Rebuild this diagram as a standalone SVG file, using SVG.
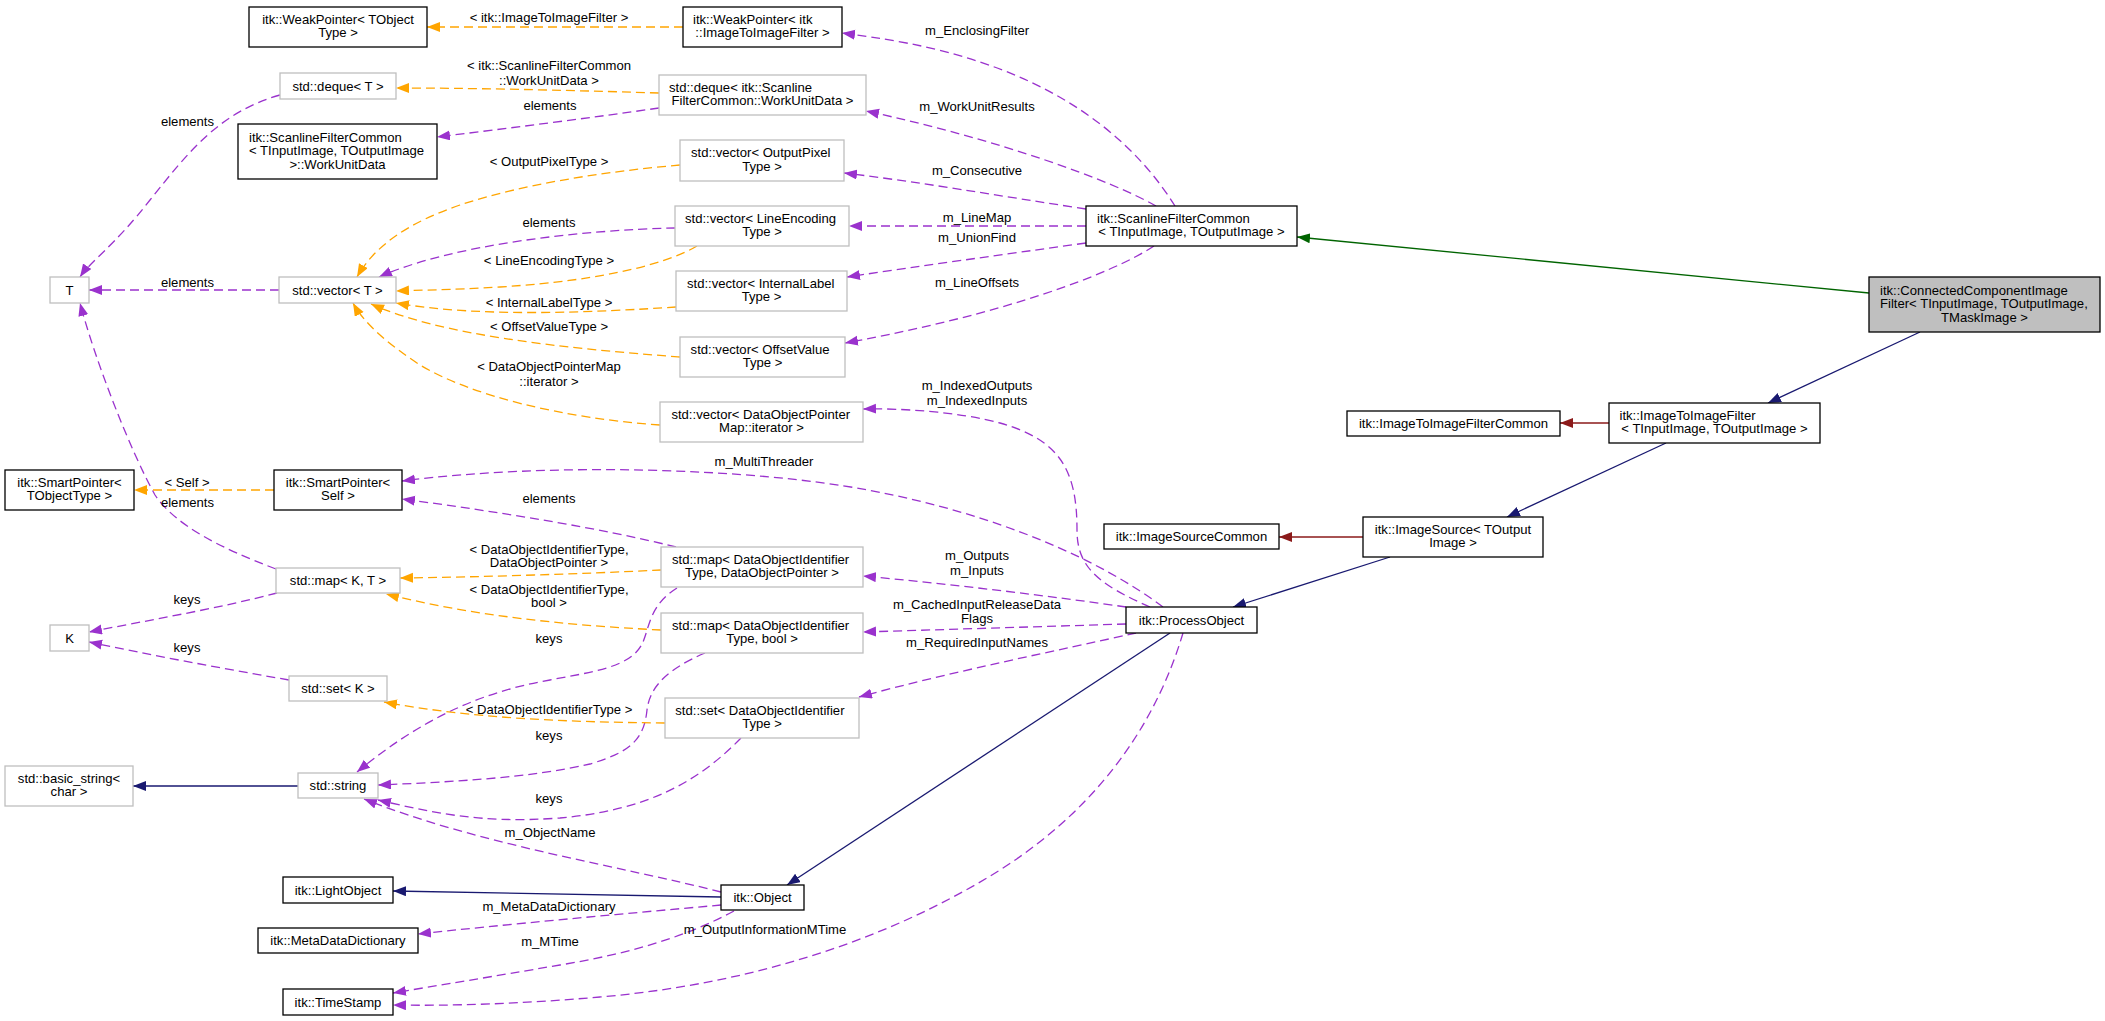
<svg xmlns="http://www.w3.org/2000/svg" width="2105" height="1021" viewBox="0 0 2105 1021">
<style>
text{font-family:"Liberation Sans",Arial,Helvetica,sans-serif;font-size:13.1px;fill:#000}
.c{text-anchor:middle}
.s{text-anchor:start}
.nb rect{fill:#fff;stroke:#000;stroke-width:1.3}
.ng rect{fill:#fff;stroke:#bfbfbf;stroke-width:1.3}
.sel rect{fill:#bfbfbf;stroke:#000;stroke-width:1.3}
#edges path{fill:none;stroke-width:1.3}
#edges .u{stroke:#9a32cd;stroke-dasharray:9,5;marker-end:url(#mu)}
#edges .t{stroke:#ffa500;stroke-dasharray:9,5;marker-end:url(#mt)}
#edges .n{stroke:#191970;marker-end:url(#mn)}
#edges .r{stroke:#8b1a1a;marker-end:url(#mr)}
#edges .g{stroke:#006400;marker-end:url(#mg)}
</style>
<defs>
<marker id="mu" markerUnits="userSpaceOnUse" markerWidth="14" markerHeight="11" refX="13" refY="5" orient="auto"><path d="M0,0 L13,5 L0,10 Z" fill="#9a32cd"/></marker>
<marker id="mt" markerUnits="userSpaceOnUse" markerWidth="14" markerHeight="11" refX="13" refY="5" orient="auto"><path d="M0,0 L13,5 L0,10 Z" fill="#ffa500"/></marker>
<marker id="mn" markerUnits="userSpaceOnUse" markerWidth="14" markerHeight="11" refX="13" refY="5" orient="auto"><path d="M0,0 L13,5 L0,10 Z" fill="#191970"/></marker>
<marker id="mr" markerUnits="userSpaceOnUse" markerWidth="14" markerHeight="11" refX="13" refY="5" orient="auto"><path d="M0,0 L13,5 L0,10 Z" fill="#8b1a1a"/></marker>
<marker id="mg" markerUnits="userSpaceOnUse" markerWidth="14" markerHeight="11" refX="13" refY="5" orient="auto"><path d="M0,0 L13,5 L0,10 Z" fill="#006400"/></marker>
</defs>
<rect x="0" y="0" width="2105" height="1021" fill="#fff"/>
<g id="edges">
<path class="u" d="M1175,206 C1140,150 1080,95 980,62 C930,45 880,38 842,33"/>
<path class="u" d="M1156,206 C1110,180 1000,140 866,111"/>
<path class="u" d="M1086,209 C1000,196 920,182 844,173"/>
<path class="u" d="M1086,226 L849,226"/>
<path class="u" d="M1086,243 C1000,255 920,266 847,277"/>
<path class="u" d="M1154,246 C1110,275 1000,315 845,343"/>
<path class="u" d="M659,108 C590,118 510,128 437,137"/>
<path class="u" d="M280,95 C220,112 190,150 150,200 C115,245 90,262 80,277"/>
<path class="u" d="M675,228 C580,230 450,245 379,277"/>
<path class="u" d="M279,290 L89,290"/>
<path class="u" d="M276,569 C220,548 175,525 155,495 C130,450 95,360 80,303"/>
<path class="u" d="M676,547 C600,528 500,512 402,499"/>
<path class="u" d="M1163,607 C1100,560 1000,515 868,490 C750,468 550,462 402,481"/>
<path class="u" d="M277,593 C220,608 150,620 89,632"/>
<path class="u" d="M289,680 C220,668 150,655 89,642"/>
<path class="u" d="M677,588 C650,605 650,625 643,642 C632,668 590,672 550,680 C480,692 420,720 357,772"/>
<path class="u" d="M705,653 C670,668 650,685 647,710 C644,740 630,752 590,764 C530,778 450,782 378,785"/>
<path class="u" d="M741,738 C700,780 650,810 560,818 C480,824 430,812 378,800"/>
<path class="u" d="M721,892 C620,866 480,845 364,799"/>
<path class="u" d="M1136,633 C1060,650 950,672 859,697"/>
<path class="u" d="M1126,607 C1050,596 950,584 863,576"/>
<path class="u" d="M1126,624 L863,632"/>
<path class="u" d="M1150,607 C1095,583 1077,565 1077,530 C1077,470 1060,440 1000,423 C960,412 900,408 863,409"/>
<path class="u" d="M721,905 C620,914 500,925 418,934"/>
<path class="u" d="M734,911 C680,940 620,955 560,965 C490,977 440,985 393,993"/>
<path class="u" d="M1183,633 C1160,710 1110,800 1000,870 C880,945 740,985 600,997 C520,1004 450,1006 393,1005"/>
<path class="t" d="M683,27 L427,27"/>
<path class="t" d="M659,93 C560,90 470,88 396,88"/>
<path class="t" d="M680,165 C600,172 520,185 460,205 C410,222 375,245 357,277"/>
<path class="t" d="M697,246 C670,262 610,280 500,287 C450,290 420,290 396,291"/>
<path class="t" d="M676,307 C600,312 480,318 396,303"/>
<path class="t" d="M680,357 C560,348 440,335 371,304"/>
<path class="t" d="M660,425 C560,418 470,395 420,365 C390,345 365,325 353,303"/>
<path class="t" d="M274,490 L134,490"/>
<path class="t" d="M661,570 C580,574 480,577 400,578"/>
<path class="t" d="M661,630 C560,625 470,615 386,594"/>
<path class="t" d="M665,723 C560,722 470,718 384,702"/>
<path class="n" d="M1920,332 L1768,403"/>
<path class="n" d="M1666,443 L1507,517"/>
<path class="n" d="M1390,557 L1233,607"/>
<path class="n" d="M1170,633 L787,885"/>
<path class="n" d="M721,897 L393,891"/>
<path class="n" d="M298,786 L133,786"/>
<path class="r" d="M1609,423 L1560,423"/>
<path class="r" d="M1363,537 L1279,537"/>
<path class="g" d="M1869,293 L1297,237"/>
</g>
<g id="edge-labels">
<text class="c" x="549" y="22">&lt; itk::ImageToImageFilter &gt;</text>
<text class="c" x="549" y="70">&lt; itk::ScanlineFilterCommon</text>
<text class="c" x="549" y="84.5">::WorkUnitData &gt;</text>
<text class="c" x="550" y="109.5">elements</text>
<text class="c" x="977" y="35">m_EnclosingFilter</text>
<text class="c" x="977" y="111">m_WorkUnitResults</text>
<text class="c" x="187.5" y="125.5">elements</text>
<text class="c" x="549" y="166">&lt; OutputPixelType &gt;</text>
<text class="c" x="977" y="175">m_Consecutive</text>
<text class="c" x="977" y="222">m_LineMap</text>
<text class="c" x="549" y="226.5">elements</text>
<text class="c" x="977" y="242">m_UnionFind</text>
<text class="c" x="549" y="265">&lt; LineEncodingType &gt;</text>
<text class="c" x="187.5" y="286.5">elements</text>
<text class="c" x="977" y="287">m_LineOffsets</text>
<text class="c" x="549" y="307">&lt; InternalLabelType &gt;</text>
<text class="c" x="549" y="331">&lt; OffsetValueType &gt;</text>
<text class="c" x="549" y="371">&lt; DataObjectPointerMap</text>
<text class="c" x="549" y="386">::iterator &gt;</text>
<text class="c" x="977" y="390">m_IndexedOutputs</text>
<text class="c" x="977" y="405">m_IndexedInputs</text>
<text class="c" x="764" y="466">m_MultiThreader</text>
<text class="c" x="187" y="486.5">&lt; Self &gt;</text>
<text class="c" x="549" y="502.5">elements</text>
<text class="c" x="187.5" y="506.5">elements</text>
<text class="c" x="549" y="553.5">&lt; DataObjectIdentifierType,</text>
<text class="c" x="549" y="567">DataObjectPointer &gt;</text>
<text class="c" x="977" y="559.5">m_Outputs</text>
<text class="c" x="977" y="574.5">m_Inputs</text>
<text class="c" x="549" y="593.5">&lt; DataObjectIdentifierType,</text>
<text class="c" x="549" y="607">bool &gt;</text>
<text class="c" x="187" y="603.5">keys</text>
<text class="c" x="977" y="608.5">m_CachedInputReleaseData</text>
<text class="c" x="977" y="622.5">Flags</text>
<text class="c" x="549" y="642.5">keys</text>
<text class="c" x="977" y="647">m_RequiredInputNames</text>
<text class="c" x="187" y="651.5">keys</text>
<text class="c" x="549" y="713.5">&lt; DataObjectIdentifierType &gt;</text>
<text class="c" x="549" y="739.5">keys</text>
<text class="c" x="549" y="803">keys</text>
<text class="c" x="550" y="837">m_ObjectName</text>
<text class="c" x="549" y="911">m_MetaDataDictionary</text>
<text class="c" x="765" y="933.5">m_OutputInformationMTime</text>
<text class="c" x="550" y="946">m_MTime</text>
</g>
<g id="n1" class="nb"><rect x="249" y="7" width="178" height="40"/><text class="c" x="338" y="23.7">itk::WeakPointer&lt; TObject</text><text class="c" x="338" y="37.3">Type &gt;</text></g>
<g id="n2" class="nb"><rect x="683" y="7" width="159" height="40"/><text class="s" x="693" y="23.7">itk::WeakPointer&lt; itk</text><text class="c" x="762.5" y="37.3">::ImageToImageFilter &gt;</text></g>
<g id="n3" class="ng"><rect x="280" y="73" width="116" height="26"/><text class="c" x="338" y="90.5">std::deque&lt; T &gt;</text></g>
<g id="n4" class="ng"><rect x="659" y="75" width="207" height="40"/><text class="s" x="669" y="91.7">std::deque&lt; itk::Scanline</text><text class="c" x="762.5" y="105.3">FilterCommon::WorkUnitData &gt;</text></g>
<g id="n5" class="nb"><rect x="238" y="124" width="199" height="55"/><text class="s" x="249" y="141.5">itk::ScanlineFilterCommon</text><text class="s" x="249" y="155.1">&lt; TInputImage, TOutputImage</text><text class="c" x="337.5" y="168.7">&gt;::WorkUnitData</text></g>
<g id="n6" class="ng"><rect x="680" y="140" width="164" height="41"/><text class="s" x="691" y="157.2">std::vector&lt; OutputPixel</text><text class="c" x="762" y="170.8">Type &gt;</text></g>
<g id="n7" class="ng"><rect x="675" y="206" width="174" height="40"/><text class="s" x="685" y="222.7">std::vector&lt; LineEncoding</text><text class="c" x="762" y="236.3">Type &gt;</text></g>
<g id="n8" class="nb"><rect x="1086" y="206" width="211" height="40"/><text class="s" x="1097" y="222.7">itk::ScanlineFilterCommon</text><text class="c" x="1191.5" y="236.3">&lt; TInputImage, TOutputImage &gt;</text></g>
<g id="n9" class="ng"><rect x="676" y="271" width="171" height="40"/><text class="s" x="687" y="287.7">std::vector&lt; InternalLabel</text><text class="c" x="761.5" y="301.3">Type &gt;</text></g>
<g id="n10" class="ng"><rect x="50" y="277" width="39" height="26"/><text class="c" x="69.5" y="294.5">T</text></g>
<g id="n11" class="ng"><rect x="279" y="277" width="117" height="26"/><text class="c" x="337.5" y="294.5">std::vector&lt; T &gt;</text></g>
<g id="n12" class="sel"><rect x="1869" y="277" width="231" height="55"/><text class="s" x="1880" y="294.5">itk::ConnectedComponentImage</text><text class="s" x="1880" y="308.1">Filter&lt; TInputImage, TOutputImage,</text><text class="c" x="1984.5" y="321.7">TMaskImage &gt;</text></g>
<g id="n13" class="ng"><rect x="680" y="337" width="165" height="40"/><text class="s" x="690.6" y="353.7">std::vector&lt; OffsetValue</text><text class="c" x="762.5" y="367.3">Type &gt;</text></g>
<g id="n14" class="ng"><rect x="660" y="402" width="203" height="40"/><text class="s" x="671.4" y="418.7">std::vector&lt; DataObjectPointer</text><text class="c" x="761.5" y="432.3">Map::iterator &gt;</text></g>
<g id="n15" class="nb"><rect x="1347" y="411" width="213" height="25"/><text class="c" x="1453.5" y="428">itk::ImageToImageFilterCommon</text></g>
<g id="n16" class="nb"><rect x="1609" y="403" width="211" height="40"/><text class="s" x="1619.5" y="419.7">itk::ImageToImageFilter</text><text class="c" x="1714.5" y="433.3">&lt; TInputImage, TOutputImage &gt;</text></g>
<g id="n17" class="nb"><rect x="5" y="470" width="129" height="40"/><text class="c" x="69.5" y="486.7">itk::SmartPointer&lt;</text><text class="c" x="69.5" y="500.3">TObjectType &gt;</text></g>
<g id="n18" class="nb"><rect x="274" y="470" width="128" height="40"/><text class="c" x="338" y="486.7">itk::SmartPointer&lt;</text><text class="c" x="338" y="500.3">Self &gt;</text></g>
<g id="n19" class="nb"><rect x="1104" y="524" width="175" height="25"/><text class="c" x="1191.5" y="541">itk::ImageSourceCommon</text></g>
<g id="n20" class="nb"><rect x="1363" y="517" width="180" height="40"/><text class="c" x="1453" y="533.7">itk::ImageSource&lt; TOutput</text><text class="c" x="1453" y="547.3">Image &gt;</text></g>
<g id="n21" class="ng"><rect x="661" y="547" width="202" height="40"/><text class="s" x="672" y="563.7">std::map&lt; DataObjectIdentifier</text><text class="c" x="762" y="577.3">Type, DataObjectPointer &gt;</text></g>
<g id="n22" class="ng"><rect x="276" y="568" width="124" height="25"/><text class="c" x="338" y="585">std::map&lt; K, T &gt;</text></g>
<g id="n23" class="nb"><rect x="1126" y="607" width="131" height="26"/><text class="c" x="1191.5" y="624.5">itk::ProcessObject</text></g>
<g id="n24" class="ng"><rect x="661" y="613" width="202" height="40"/><text class="s" x="672" y="629.7">std::map&lt; DataObjectIdentifier</text><text class="c" x="762" y="643.3">Type, bool &gt;</text></g>
<g id="n25" class="ng"><rect x="50" y="625" width="39" height="26"/><text class="c" x="69.5" y="642.5">K</text></g>
<g id="n26" class="ng"><rect x="289" y="676" width="98" height="25"/><text class="c" x="338" y="693">std::set&lt; K &gt;</text></g>
<g id="n27" class="ng"><rect x="665" y="698" width="194" height="40"/><text class="s" x="675.3" y="714.7">std::set&lt; DataObjectIdentifier</text><text class="c" x="762" y="728.3">Type &gt;</text></g>
<g id="n28" class="ng"><rect x="5" y="766" width="128" height="40"/><text class="c" x="69" y="782.7">std::basic_string&lt;</text><text class="c" x="69" y="796.3">char &gt;</text></g>
<g id="n29" class="ng"><rect x="298" y="773" width="80" height="25"/><text class="c" x="338" y="790">std::string</text></g>
<g id="n30" class="nb"><rect x="283" y="877" width="110" height="26"/><text class="c" x="338" y="894.5">itk::LightObject</text></g>
<g id="n31" class="nb"><rect x="721" y="885" width="83" height="25"/><text class="c" x="762.5" y="902">itk::Object</text></g>
<g id="n32" class="nb"><rect x="258" y="928" width="160" height="25"/><text class="c" x="338" y="945">itk::MetaDataDictionary</text></g>
<g id="n33" class="nb"><rect x="283" y="989" width="110" height="26"/><text class="c" x="338" y="1006.5">itk::TimeStamp</text></g>
</svg>
